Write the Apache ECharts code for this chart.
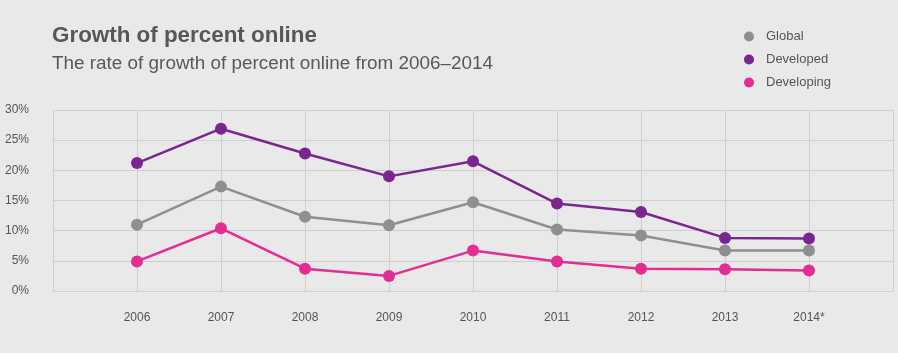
<!DOCTYPE html>
<html>
<head>
<meta charset="utf-8">
<title>Growth of percent online</title>
<script src="https://cdn.jsdelivr.net/npm/echarts@6/dist/echarts.min.js"></script>
<style>
  html, body { margin: 0; padding: 0; background: #e9e9e9; }
  #chart { width: 898px; height: 353px; }
</style>
</head>
<body>
<div id="chart"></div>
<script>
// years on the x axis, 2014 is an estimate (marked with *)
var years = [2006, 2007, 2008, 2009, 2010, 2011, 2012, 2013, 2014];
var yTicks = [0, 5, 10, 15, 20, 25, 30];

// growth of percent online, in %
var globalVals     = [11.0, 17.3, 12.3, 10.9, 14.7, 10.2, 9.2, 6.7, 6.7];
var developedVals  = [21.2, 26.9, 22.8, 19.0, 21.5, 14.5, 13.1, 8.8, 8.7];
var developingVals = [4.9, 10.4, 3.7, 2.5, 6.7, 4.9, 3.7, 3.6, 3.4];

var FONT = '"Liberation Sans", Arial, Helvetica, sans-serif';

function pairs(vals) {
    return years.map(function (y, i) { return [y, vals[i]]; });
}

function makeSeries(name, vals, color) {
    return {
        name: name,
        type: 'line',
        data: pairs(vals),
        symbol: 'circle',
        symbolSize: 12,
        lineStyle: { width: 2.5, color: color },
        itemStyle: { color: color },
        emphasis: { disabled: true }
    };
}

var myChart = echarts.init(document.getElementById('chart'));
var option = {
    backgroundColor: '#e9e9e9',
    animation: false,
    title: [
        {
            text: 'Growth of percent online',
            left: 47,
            top: 20,
            textStyle: { fontFamily: FONT, fontSize: 22.4, fontWeight: 'bold', color: '#57575a' }
        },
        {
            text: 'The rate of growth of percent online from 2006\u20132014',
            left: 47,
            top: 49,
            textStyle: { fontFamily: FONT, fontSize: 18.9, fontWeight: 'normal', color: '#58585a' }
        }
    ],
    legend: {
        orient: 'vertical',
        left: 739,
        top: 25,
        itemGap: 10,
        itemWidth: 10,
        itemHeight: 10,
        icon: 'circle',
        textStyle: { fontFamily: FONT, fontSize: 13, color: '#555', padding: [0, 0, 0, 7] },
        data: ['Global', 'Developed', 'Developing']
    },
    grid: { left: 53, top: 110, right: 5, bottom: 62 },
    xAxis: {
        type: 'value',
        min: 2005,
        max: 2015,
        interval: 1,
        axisLine: { show: true, lineStyle: { color: '#cfcfcf' } },
        axisTick: { show: false },
        splitLine: { show: true, lineStyle: { color: '#cfcfcf', width: 1 } },
        axisLabel: {
            margin: 21,
            fontFamily: FONT,
            fontSize: 12,
            color: '#555',
            showMinLabel: true,
            showMaxLabel: true,
            formatter: function (v) {
                if (years.indexOf(v) < 0) return '';
                return v === 2014 ? '2014*' : String(v);
            }
        }
    },
    yAxis: {
        type: 'value',
        min: yTicks[0],
        max: yTicks[yTicks.length - 1],
        interval: 5,
        axisLine: { show: true, lineStyle: { color: '#cfcfcf' } },
        axisTick: { show: false },
        splitLine: { show: true, lineStyle: { color: '#cfcfcf', width: 1 } },
        axisLabel: {
            margin: 24,
            fontFamily: FONT,
            fontSize: 12,
            color: '#555',
            formatter: '{value}%'
        }
    },
    series: [
        makeSeries('Global', globalVals, '#8f8f93'),
        makeSeries('Developing', developingVals, '#e42d93'),
        makeSeries('Developed', developedVals, '#7a2590')
    ]
};
myChart.setOption(option);
</script>
</body>
</html>
